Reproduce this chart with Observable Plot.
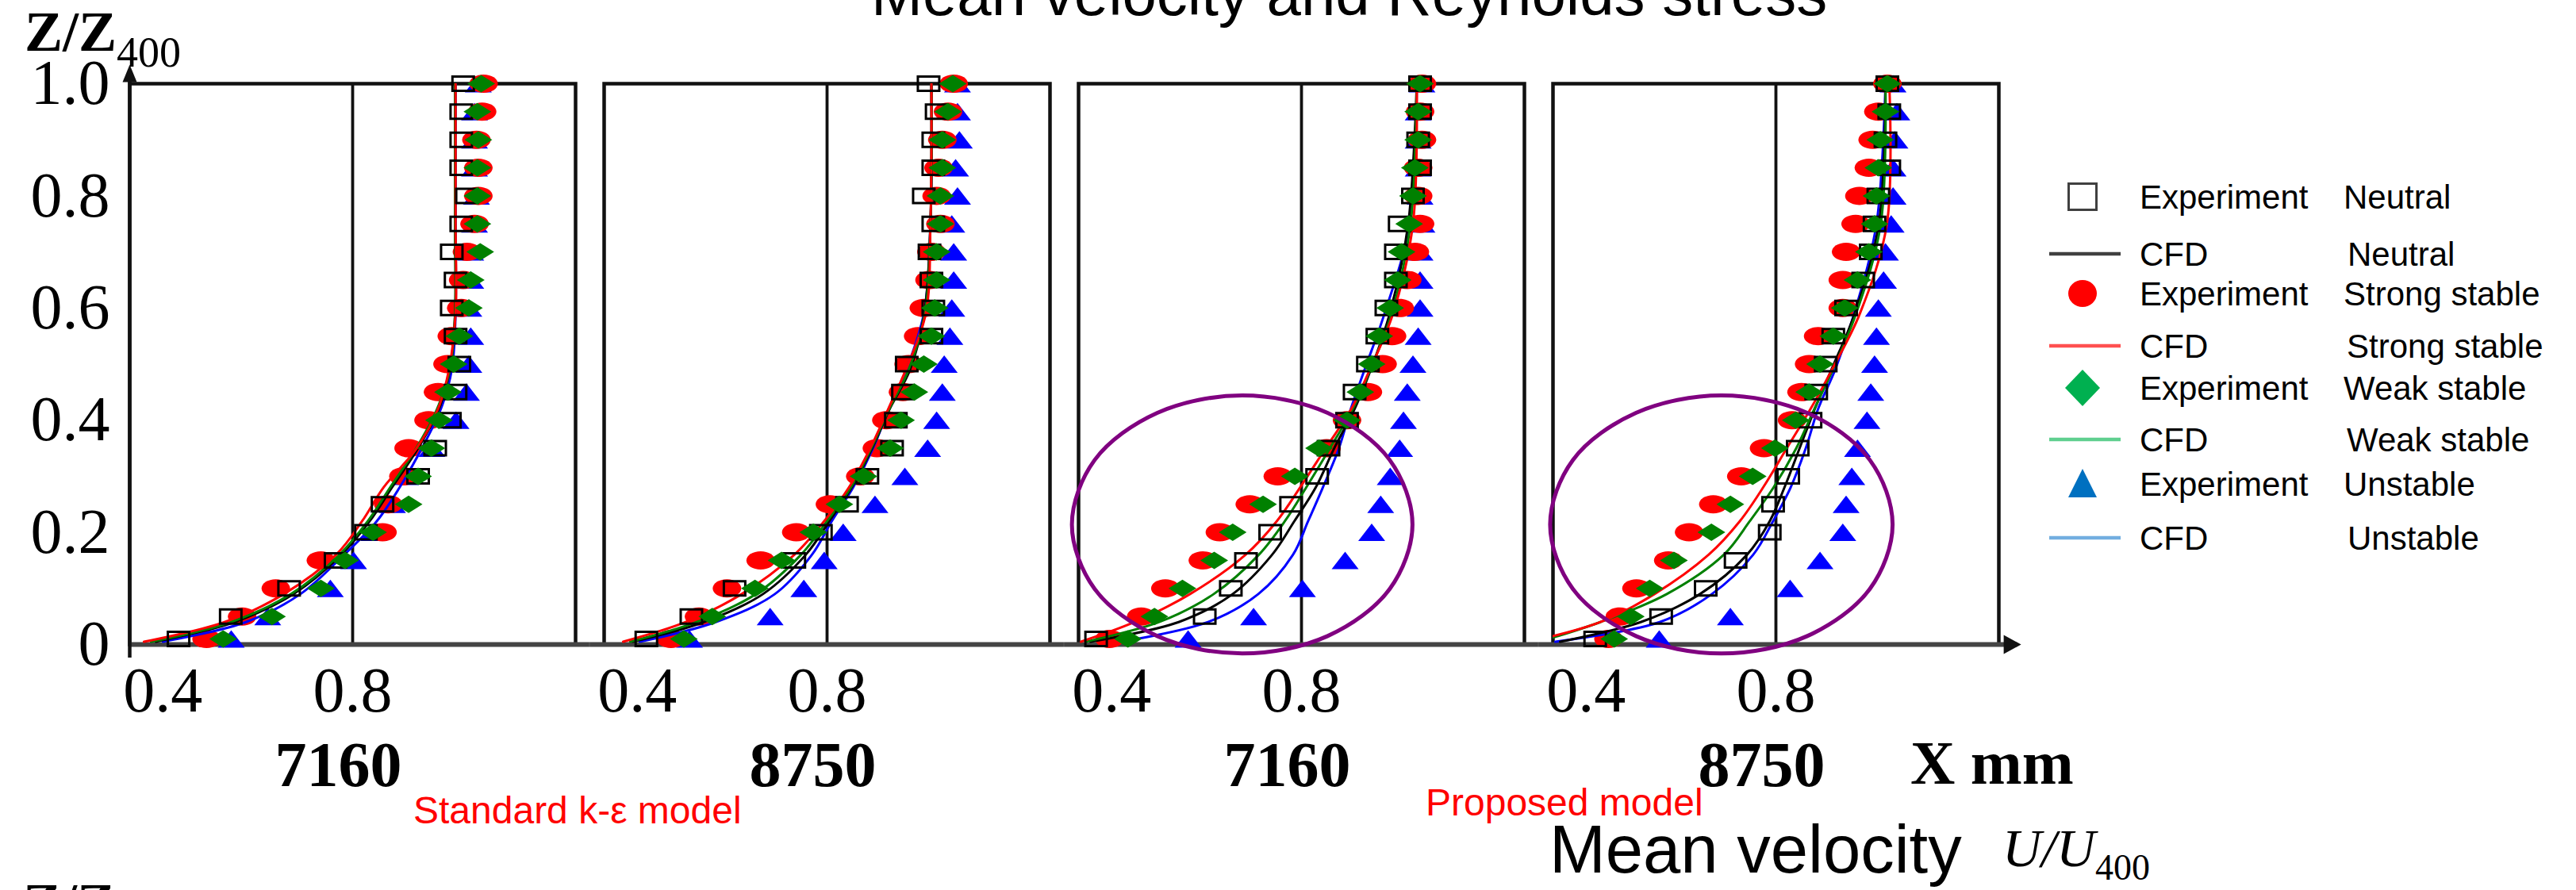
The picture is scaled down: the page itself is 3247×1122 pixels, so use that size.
<!DOCTYPE html>
<html><head><meta charset="utf-8">
<script src="https://cdn.jsdelivr.net/npm/d3@7"></script>
<script src="https://cdn.jsdelivr.net/npm/@observablehq/plot@0.6"></script>
<style>
html,body{margin:0;padding:0;background:#fff;overflow:hidden;}
#wrap{position:relative;width:3247px;height:1122px;overflow:hidden;background:#fff;}
#chart{position:absolute;left:0;top:0;}
#overlay{position:absolute;left:0;top:0;pointer-events:none;}
</style></head>
<body>
<div id="wrap">
<div id="chart"></div>
<svg id="overlay" width="3247" height="1122" xmlns="http://www.w3.org/2000/svg">
  <text x="1098" y="19" font-family="Liberation Sans, Arial, sans-serif" font-size="78" fill="#000">Mean velocity and Reynolds stress</text>
  <text x="31" y="64" font-family="Liberation Serif, serif" font-weight="bold" font-size="72" fill="#000">Z/Z<tspan font-size="54" font-weight="normal" dy="20">400</tspan></text>
  <text x="521" y="1038" font-family="Liberation Sans, Arial, sans-serif" font-size="48" fill="#ff0000">Standard k-ε model</text>
  <text x="1797" y="1028" font-family="Liberation Sans, Arial, sans-serif" font-size="48" fill="#ff0000">Proposed model</text>
  <text x="2408" y="988" font-family="Liberation Serif, serif" font-weight="bold" font-size="78" fill="#000">X mm</text>
  <text x="1953" y="1100" font-family="Liberation Sans, Arial, sans-serif" font-size="85" fill="#000">Mean velocity</text>
  <text x="2524" y="1092" font-family="Liberation Serif, serif" font-style="italic" font-size="68" fill="#000">U/U<tspan font-style="normal" font-size="46" dy="17">400</tspan></text>
  <text x="29" y="1163" font-family="Liberation Serif, serif" font-weight="bold" font-size="72" fill="#000">Z/Z</text>
  <g id="legend"></g>
</svg>
</div>
<script>
// ---------- data ----------
const panels = ["p1", "p2", "p3", "p4"];
const panelNames = ["7160", "8750", "7160", "8750"];
const xDomain = [0.33, 1.27];
const xTicks = [0.4, 0.8];
const yTicks = [0, 0.2, 0.4, 0.6, 0.8, 1.0];

// heights of the experimental points (Z/Z400)
const zExp = [0.01, 0.05, 0.10, 0.15, 0.20, 0.25, 0.30, 0.35, 0.40, 0.45, 0.50,
              0.55, 0.60, 0.65, 0.70, 0.75, 0.80, 0.85, 0.90, 0.95, 1.00];

// Experiment, U/U400, one row per panel (7160 std, 8750 std, 7160 proposed, 8750 proposed)
const expNeutral = [
  [0.433, 0.543, 0.666, 0.764, 0.828, 0.863, 0.938, 0.974, 1.005, 1.017, 1.025, 1.017, 1.009, 1.017, 1.009, 1.029, 1.041, 1.029, 1.029, 1.029, 1.033],
  [0.419, 0.514, 0.605, 0.731, 0.787, 0.842, 0.885, 0.937, 0.945, 0.960, 0.968, 1.020, 1.024, 1.020, 1.016, 1.024, 1.004, 1.024, 1.024, 1.031, 1.014],
  [0.367, 0.596, 0.651, 0.683, 0.734, 0.778, 0.833, 0.857, 0.896, 0.912, 0.940, 0.960, 0.979, 0.999, 0.999, 1.007, 1.035, 1.050, 1.046, 1.050, 1.050],
  [0.419, 0.558, 0.652, 0.715, 0.787, 0.794, 0.826, 0.846, 0.873, 0.885, 0.905, 0.921, 0.948, 0.984, 1.000, 1.008, 1.016, 1.039, 1.031, 1.039, 1.035]
];
const expStrong = [
  [0.492, 0.567, 0.638, 0.733, 0.863, 0.875, 0.907, 0.918, 0.960, 0.980, 1.000, 1.009, 1.029, 1.033, 1.041, 1.057, 1.065, 1.065, 1.061, 1.073, 1.076],
  [0.471, 0.530, 0.589, 0.660, 0.735, 0.806, 0.870, 0.905, 0.925, 0.960, 0.972, 0.992, 1.004, 1.016, 1.020, 1.039, 1.031, 1.035, 1.043, 1.055, 1.067],
  [0.395, 0.462, 0.513, 0.592, 0.628, 0.691, 0.750, 0.853, 0.896, 0.940, 0.971, 0.991, 1.007, 1.023, 1.039, 1.050, 1.046, 1.046, 1.054, 1.050, 1.054],
  [0.447, 0.471, 0.506, 0.573, 0.617, 0.668, 0.727, 0.775, 0.834, 0.854, 0.870, 0.889, 0.941, 0.941, 0.948, 0.968, 0.976, 0.996, 1.004, 1.016, 1.035]
];
const expWeak = [
  [0.527, 0.630, 0.733, 0.784, 0.843, 0.918, 0.938, 0.966, 0.982, 1.001, 1.013, 1.025, 1.045, 1.049, 1.069, 1.063, 1.063, 1.063, 1.065, 1.063, 1.071],
  [0.498, 0.558, 0.648, 0.704, 0.771, 0.826, 0.877, 0.933, 0.956, 0.984, 1.004, 1.020, 1.027, 1.031, 1.031, 1.039, 1.039, 1.043, 1.043, 1.055, 1.065],
  [0.434, 0.490, 0.549, 0.616, 0.655, 0.719, 0.786, 0.837, 0.896, 0.924, 0.948, 0.964, 0.987, 1.003, 1.011, 1.027, 1.035, 1.039, 1.046, 1.046, 1.050],
  [0.459, 0.494, 0.534, 0.585, 0.664, 0.704, 0.751, 0.798, 0.842, 0.870, 0.893, 0.921, 0.945, 0.972, 0.996, 1.008, 1.012, 1.016, 1.020, 1.031, 1.035]
];
const expUnstable = [
  [0.544, 0.621, 0.753, 0.802, 0.845, 0.884, 0.912, 0.967, 1.018, 1.040, 1.045, 1.049, 1.045, 1.049, 1.049, 1.057, 1.061, 1.057, 1.057, 1.057, 1.065],
  [0.510, 0.680, 0.751, 0.794, 0.834, 0.901, 0.964, 1.012, 1.031, 1.043, 1.047, 1.059, 1.063, 1.067, 1.067, 1.063, 1.075, 1.071, 1.079, 1.075, 1.075],
  [0.561, 0.699, 0.802, 0.892, 0.948, 0.967, 0.987, 1.007, 1.015, 1.023, 1.035, 1.046, 1.050, 1.050, 1.050, 1.054, 1.050, 1.046, 1.046, 1.046, 1.054],
  [0.554, 0.704, 0.830, 0.893, 0.941, 0.948, 0.960, 0.972, 0.992, 1.000, 1.008, 1.012, 1.016, 1.027, 1.031, 1.043, 1.047, 1.047, 1.051, 1.055, 1.047]
];

// CFD profiles
const zCfd = [0.005, 0.04, 0.09, 0.16, 0.22, 0.28, 0.35, 0.42, 0.49, 0.59, 0.75, 1.00];
const cfdNeutral = [
  [0.385, 0.551, 0.675, 0.776, 0.836, 0.883, 0.938, 0.982, 1.005, 1.016, 1.016, 1.016],
  [0.390, 0.540, 0.665, 0.755, 0.805, 0.852, 0.895, 0.932, 0.975, 1.005, 1.018, 1.020],
  [0.355, 0.541, 0.655, 0.738, 0.785, 0.830, 0.869, 0.912, 0.946, 0.986, 1.025, 1.043],
  [0.345, 0.515, 0.640, 0.739, 0.787, 0.818, 0.850, 0.882, 0.917, 0.966, 1.017, 1.031]
];
const cfdStrong = [
  [0.360, 0.530, 0.655, 0.765, 0.820, 0.865, 0.935, 0.980, 1.003, 1.017, 1.017, 1.017],
  [0.370, 0.502, 0.620, 0.731, 0.794, 0.846, 0.891, 0.929, 0.966, 1.008, 1.018, 1.020],
  [0.335, 0.448, 0.565, 0.682, 0.748, 0.797, 0.851, 0.905, 0.944, 0.993, 1.035, 1.043],
  [0.280, 0.430, 0.544, 0.658, 0.724, 0.773, 0.823, 0.873, 0.918, 0.977, 1.034, 1.039]
];
const cfdWeak = [
  [0.375, 0.543, 0.670, 0.772, 0.832, 0.879, 0.934, 0.978, 1.005, 1.016, 1.016, 1.016],
  [0.385, 0.525, 0.650, 0.745, 0.800, 0.850, 0.893, 0.931, 0.972, 1.006, 1.018, 1.020],
  [0.345, 0.500, 0.615, 0.710, 0.765, 0.810, 0.860, 0.908, 0.945, 0.990, 1.030, 1.043],
  [0.300, 0.430, 0.570, 0.690, 0.745, 0.795, 0.843, 0.881, 0.920, 0.969, 1.021, 1.031]
];
const cfdUnstable = [
  [0.400, 0.575, 0.690, 0.782, 0.851, 0.899, 0.946, 0.986, 1.009, 1.017, 1.017, 1.017],
  [0.405, 0.565, 0.690, 0.768, 0.810, 0.855, 0.897, 0.930, 0.967, 1.004, 1.018, 1.020],
  [0.420, 0.603, 0.709, 0.782, 0.814, 0.845, 0.879, 0.904, 0.933, 0.975, 1.028, 1.043],
  [0.335, 0.555, 0.665, 0.752, 0.794, 0.831, 0.863, 0.889, 0.925, 0.965, 1.012, 1.031]
];

// purple highlight ellipses (points read around the outline), panels 3 and 4
const ellipsePanels = ["p3", "p4"];
const ellipseU = [
  [1.034, 0.986, 0.855, 0.675, 0.496, 0.364, 0.316, 0.364, 0.496, 0.675, 0.855, 0.986],
  [1.046, 0.998, 0.866, 0.685, 0.505, 0.372, 0.324, 0.372, 0.505, 0.685, 0.866, 0.998]
];
const ellipseZ = [0.214, 0.329, 0.413, 0.444, 0.413, 0.329, 0.214, 0.099, 0.015, -0.016, 0.015, 0.099];

// ---------- tables ----------
const expSeries = [
  {key: "unstable", vals: expUnstable},
  {key: "strong", vals: expStrong},
  {key: "neutral", vals: expNeutral},
  {key: "weak", vals: expWeak}
];
const expRows = [];
for (const s of expSeries) for (let p = 0; p < panels.length; p++) for (let i = 0; i < zExp.length; i++)
  expRows.push({panel: panels[p], series: s.key, z: zExp[i], u: s.vals[p][i]});

const cfdSeries = [
  {key: "unstable", vals: cfdUnstable, color: "#0000ff"},
  {key: "neutral", vals: cfdNeutral, color: "#000000"},
  {key: "weak", vals: cfdWeak, color: "#008000"},
  {key: "strong", vals: cfdStrong, color: "#ff0000"}
];
const cfdRows = [];
for (const s of cfdSeries) for (let p = 0; p < panels.length; p++) for (let i = 0; i < zCfd.length; i++)
  cfdRows.push({panel: panels[p], series: s.key, z: zCfd[i], u: s.vals[p][i]});

const ellRows = [];
ellipsePanels.forEach((p, k) => ellipseZ.forEach((z, i) => ellRows.push({panel: p, u: ellipseU[k][i], z})));

const facetLabels = panels.map((p, i) => ({panel: p, label: panelNames[i]}));
const axisRows = panels.map(p => ({panel: p}));

// ---------- symbols (stretched like the source figure) ----------
function ellipseSym(rx, ry) {
  const k = 0.5523;
  return {draw(c) {
    c.moveTo(rx, 0);
    c.bezierCurveTo(rx, ry * k, rx * k, ry, 0, ry);
    c.bezierCurveTo(-rx * k, ry, -rx, ry * k, -rx, 0);
    c.bezierCurveTo(-rx, -ry * k, -rx * k, -ry, 0, -ry);
    c.bezierCurveTo(rx * k, -ry, rx, -ry * k, rx, 0);
    c.closePath();
  }};
}
function rectSym(w, h) { return {draw(c) { c.moveTo(-w/2, -h/2); c.lineTo(w/2, -h/2); c.lineTo(w/2, h/2); c.lineTo(-w/2, h/2); c.closePath(); }}; }
function diamondSym(w, h) { return {draw(c) { c.moveTo(0, -h/2); c.lineTo(w/2, 0); c.lineTo(0, h/2); c.lineTo(-w/2, 0); c.closePath(); }}; }
function triSym(w, h) { return {draw(c) { c.moveTo(0, -h/2); c.lineTo(w/2, h/2); c.lineTo(-w/2, h/2); c.closePath(); }}; }
const arrowRight = {draw(c) { c.moveTo(0, 0); c.lineTo(-22, -12); c.lineTo(-22, 12); c.closePath(); }};
const arrowUp = {draw(c) { c.moveTo(0, 0); c.lineTo(9, 22); c.lineTo(-9, 22); c.closePath(); }};

const serif = "Liberation Serif, Times New Roman, serif";
const gapPad = 0.03;

const expMark = (key, symbol, fill, stroke, sw) =>
  Plot.dot(expRows.filter(d => d.series === key), {fx: "panel", x: "u", y: "z", symbol, fill, stroke, strokeWidth: sw});

const chart = Plot.plot({
  width: 3247, height: 1122,
  marginLeft: 162, marginRight: 727, marginTop: 105, marginBottom: 310,
  x: {domain: xDomain},
  y: {domain: [0, 1]},
  fx: {domain: panels, paddingInner: 0.06, paddingOuter: 0, axis: null},
  style: {background: "transparent", color: "#000", overflow: "visible", fontFamily: serif},
  marks: [
    Plot.ruleX([0.8], {stroke: "#111", strokeWidth: 3.8}),
    Plot.frame({stroke: "#111", strokeWidth: 4.5}),
    Plot.ruleY(axisRows, {fx: "panel", y: () => 0,
      x1: d => d.panel === "p1" ? xDomain[0] : xDomain[0] - gapPad,
      x2: d => xDomain[1] + gapPad, stroke: "#444", strokeWidth: 6}),
    Plot.ruleX(axisRows.filter(d => d.panel === "p1"), {fx: "panel", x: () => xDomain[0], y1: () => -0.024, y2: () => 1.02, stroke: "#111", strokeWidth: 4.5}),
    Plot.dot(axisRows.filter(d => d.panel === "p1"), {fx: "panel", x: () => xDomain[0], y: () => 1.034, symbol: arrowUp, fill: "#111", stroke: "none"}),
    Plot.dot(axisRows.filter(d => d.panel === "p4"), {fx: "panel", x: () => 1.317, y: () => 0, symbol: arrowRight, fill: "#111", stroke: "none"}),
    Plot.axisY({ticks: yTicks, tickFormat: d => d === 0 ? "0" : d.toFixed(1), tickSize: 0, tickPadding: 25,
      fontSize: 80, fontFamily: serif, label: null, facetAnchor: "left"}),
    Plot.axisX({ticks: xTicks, tickFormat: d => d.toFixed(1), tickSize: 0, tickPadding: 28,
      fontSize: 80, fontFamily: serif, label: null, facetAnchor: "bottom"}),
    expMark("unstable", triSym(34, 22), "#0000ff", "none", 0),
    expMark("strong", ellipseSym(18, 11.5), "#ff0000", "none", 0),
    ...cfdSeries.map(s => Plot.line(cfdRows.filter(d => d.series === s.key), {
      fx: "panel", x: "u", y: "z", stroke: s.color, strokeWidth: 3, curve: "catmull-rom", clip: true})),
    expMark("neutral", rectSym(27, 18), "none", "#000", 3),
    expMark("weak", diamondSym(35, 22), "#008000", "none", 0),
    Plot.line(ellRows, {fx: "panel", x: "u", y: "z", z: "panel", curve: "catmull-rom-closed", stroke: "#800080", strokeWidth: 5}),
    Plot.text(facetLabels, {fx: "panel", text: "label", frameAnchor: "bottom", dy: 153, dx: -18, lineAnchor: "middle",
      fontSize: 80, fontWeight: "bold", fontFamily: serif, fill: "#000"})
  ]
});
document.getElementById("chart").appendChild(chart);

// ---------- legend ----------
const legendRows = [
  {y: 248, kind: "square", color: "#404040", a: "Experiment", b: "Neutral", bx: 2954},
  {y: 320, kind: "line", color: "#404040", a: "CFD", b: "Neutral", bx: 2959},
  {y: 370, kind: "circle", color: "#ff0000", a: "Experiment", b: "Strong stable", bx: 2954},
  {y: 436, kind: "line", color: "#ff5050", a: "CFD", b: "Strong stable", bx: 2958},
  {y: 489, kind: "diamond", color: "#00b050", a: "Experiment", b: "Weak stable", bx: 2954},
  {y: 554, kind: "line", color: "#5fcf8f", a: "CFD", b: "Weak stable", bx: 2958},
  {y: 610, kind: "triangle", color: "#0070c0", a: "Experiment", b: "Unstable", bx: 2954},
  {y: 678, kind: "line", color: "#72aee0", a: "CFD", b: "Unstable", bx: 2959}
];
const NS = "http://www.w3.org/2000/svg";
const lg = document.getElementById("legend");
function el(tag, attrs, text) {
  const e = document.createElementNS(NS, tag);
  for (const k in attrs) e.setAttribute(k, attrs[k]);
  if (text != null) e.textContent = text;
  lg.appendChild(e);
  return e;
}
const sx = 2625;
for (const r of legendRows) {
  if (r.kind === "square") el("rect", {x: sx - 17.5, y: r.y - 16.5, width: 35, height: 33, fill: "#fff", stroke: r.color, "stroke-width": 3});
  else if (r.kind === "line") el("line", {x1: sx - 42, x2: sx + 48, y1: r.y, y2: r.y, stroke: r.color, "stroke-width": 4.5});
  else if (r.kind === "circle") el("ellipse", {cx: sx, cy: r.y, rx: 18, ry: 17, fill: r.color});
  else if (r.kind === "diamond") el("polygon", {points: `${sx},${r.y-23} ${sx+22},${r.y} ${sx},${r.y+23} ${sx-22},${r.y}`, fill: r.color});
  else if (r.kind === "triangle") el("polygon", {points: `${sx},${r.y-19} ${sx+18},${r.y+17} ${sx-18},${r.y+17}`, fill: r.color});
  el("text", {x: 2697, y: r.y + 15, "font-family": "Liberation Sans, Arial, sans-serif", "font-size": 42, fill: "#000"}, r.a);
  el("text", {x: r.bx, y: r.y + 15, "font-family": "Liberation Sans, Arial, sans-serif", "font-size": 42, fill: "#000"}, r.b);
}
</script>
</body></html>
